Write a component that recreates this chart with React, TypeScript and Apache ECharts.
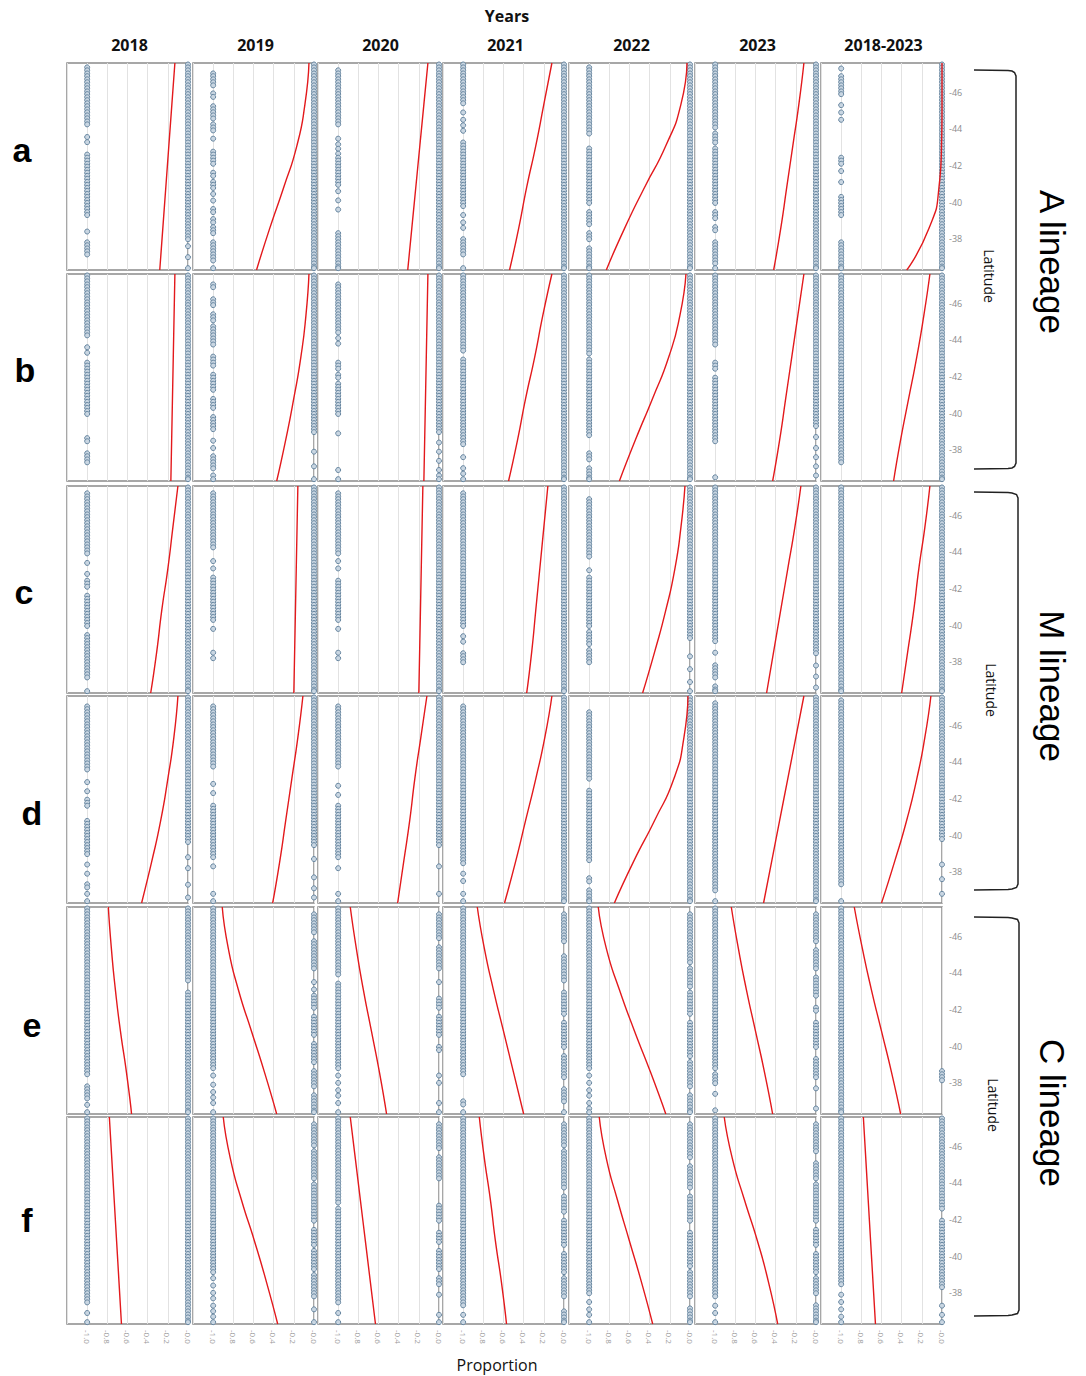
import React, { useEffect, useRef } from "react";
import * as echarts from "echarts";

const years = ["2018", "2019", "2020", "2021", "2022", "2023", "2018-2023"];
const rowLabels = ["a", "b", "c", "d", "e", "f"];
const lineages = ["A lineage", "M lineage", "C lineage"];
const latTicks = [-46, -44, -42, -40, -38];
const propMin = -1.2;
const propMax = 0;
const latMin = -47.6;
const latMax = -36.3;

// sampling-site latitudes
const siteLat = [-47.52, -47.36, -47.2, -47.03, -46.88, -46.71, -46.55, -46.38, -46.22, -46.05, -45.9, -45.73, -45.57, -45.4, -45.24, -45.07, -44.91, -44.74, -44.58, -44.41, -44.25, -44.08, -43.92, -43.75, -43.59, -43.42, -43.26, -43.09, -42.93, -42.76, -42.6, -42.43, -42.27, -42.1, -41.94, -41.77, -41.61, -41.44, -41.28, -41.11, -40.95, -40.78, -40.62, -40.45, -40.29, -40.12, -39.96, -39.79, -39.63, -39.46, -39.3, -39.13, -38.97, -38.8, -38.64, -38.47, -38.31, -38.14, -37.98, -37.81, -37.65, -37.48, -37.32, -37.15, -36.99, -36.82, -36.66, -36.49, -36.4];

// latitudes of observations at proportion -1.0 (number = one site, pair = all sites in range)
const lowRowA = [
  [[-47.4, -44.2], -43.56, -43.28, [-42.6, -39.3], -38.4, [-37.8, -37.15]],
  [[-47.12, -46.76], [-46.57, -46.27], -45.94, -45.75, [-45.2, -44.75], -44.57, [-44.29, -43.93], -43.47, [-42.73, -42.46], [-42.28, -42.0], [-41.64, -41.36], [-41.18, -40.73], -40.45, -40.09, [-39.72, -39.36], -39.08, -38.9, [-38.62, -38.26], [-37.89, -36.79], -36.4],
  [[-47.2, -44.3], -43.47, -43.16, -42.92, -42.65, [-42.4, -40.9], -40.6, -40.1, -39.6, [-38.4, -36.4]],
  [[-47.5, -45.3], -44.9, -44.5, -44.2, -43.9, [-43.3, -39.7], -39.3, -38.9, -38.6, [-38.0, -37.1], -36.4],
  [[-47.4, -43.7], [-43.0, -39.9], [-39.5, -38.8], [-38.4, -37.9], [-37.5, -36.4]],
  [[-47.5, -44.0], [-43.7, -43.3], [-42.9, -39.9], [-39.5, -39.1], [-38.6, -38.4], [-37.9, -36.6], -36.4],
  [-47.3, [-46.9, -45.8], -45.3, -44.9, -44.5, [-42.5, -42.1], -41.7, -41.1, [-40.4, -39.3], [-37.9, -36.4]],
];
const lowRowB = [
  [[-47.5, -44.2], -43.6, -43.3, [-42.8, -40.0], [-38.6, -38.4], [-37.9, -37.3]],
  [[-47.0, -46.8], [-46.3, -45.9], [-45.5, -45.0], [-44.7, -43.8], [-43.1, -42.6], [-42.1, -41.3], [-40.9, -40.2], [-39.9, -39.1], -38.5, -38.1, [-37.7, -37.0], -36.6, -36.4],
  [[-47.1, -44.4], -44.1, -43.8, [-42.8, -42.4], [-42.1, -41.9], [-41.6, -39.9], -38.9, -36.9, -36.4],
  [[-47.5, -43.4], [-43.0, -38.3], -37.6, -37.0, -36.7, -36.4],
  [[-47.5, -43.3], [-42.9, -38.8], [-37.8, -37.5], [-37.0, -36.4]],
  [[-47.5, -43.7], [-42.8, -42.4], [-41.9, -38.4], -36.5],
  [[-47.5, -37.3]],
];
const lowRowC = [
  [[-47.2, -43.9], -43.4, -42.8, [-42.4, -42.0], [-41.6, -39.9], [-39.5, -37.1], -36.4],
  [[-47.2, -44.2], -43.5, -43.1, [-42.6, -40.2], -39.8, -38.5, -38.2],
  [[-47.2, -43.9], -43.5, -43.1, [-42.5, -40.2], -39.8, -38.5, -38.2],
  [[-47.2, -39.9], -39.4, -39.1, [-38.5, -37.9]],
  [[-46.9, -43.7], -43.0, [-42.7, -39.9], [-39.6, -38.9], [-38.6, -38.0]],
  [[-47.5, -39.1], -38.5, [-37.9, -37.1], [-36.7, -36.4]],
  [[-47.55, -36.4]],
];
const lowRowD = [
  [[-47.1, -43.5], -42.9, -42.4, [-42.0, -41.5], [-40.8, -39.0], -38.4, -37.9, [-37.4, -37.1], -36.8, -36.4],
  [[-47.1, -43.8], -42.8, -42.3, [-41.6, -38.8], -38.3, -36.8, -36.4],
  [[-47.1, -43.7], -42.7, -42.2, [-41.6, -38.8], -38.2, -36.8, -36.4],
  [[-47.0, -38.4], -37.9, -37.5, -36.8, -36.4],
  [[-46.7, -43.0], [-42.4, -38.6], [-37.7, -37.5], [-36.95, -36.4]],
  [[-47.3, -37.0], -36.4],
  [[-47.4, -37.3], -36.4],
];
const lowRowE = [
  [[-47.55, -38.4], [-37.9, -37.1], -36.8, -36.4],
  [[-47.55, -38.8], -38.4, -37.9, -37.5, -37.2, -36.9, -36.4],
  [[-47.55, -43.9], [-43.5, -38.8], -38.4, -38.0, -37.6, -37.3, -36.9, -36.4],
  [[-47.55, -38.4], [-37.0, -36.8], -36.4],
  [[-47.55, -38.8], -38.4, -38.0, -37.6, -37.3, -36.9, -36.6, -36.4],
  [[-47.55, -38.8], [-38.5, -38.0], -37.4, -36.5],
  [[-47.55, -36.4]],
];
const lowRowF = [
  [[-47.55, -38.0], [-37.9, -37.4], -36.9, -36.4],
  [[-47.55, -39.1], -38.8, -38.4, -38.0, -37.7, -37.3, -37.0, -36.7, -36.4],
  [[-47.55, -42.9], [-42.6, -37.5], -36.9, -36.4],
  [[-47.55, -37.3], -36.8, -36.4],
  [[-47.55, -37.9], -37.5, -37.1, -36.8, -36.4],
  [[-47.55, -37.7], -37.3, -36.9, -36.4],
  [[-47.55, -38.4], -37.9, -37.5, -37.1, -36.7, -36.4],
];

// latitudes of observations at proportion 0.0
const highRowA = [
  [[-47.55, -37.9], -37.6, -37.0, -36.4],
  [[-47.55, -36.4]],
  [[-47.55, -36.4]],
  [[-47.55, -36.4]],
  [[-47.55, -36.4]],
  [[-47.55, -36.4]],
  [[-47.55, -36.4]],
];
const highRowB = [
  [[-47.55, -36.4]],
  [[-47.55, -38.9], -37.9, -37.1, -36.4],
  [[-47.55, -38.9], -38.4, -37.9, -37.4, -36.9, -36.6, -36.4],
  [[-47.55, -36.4]],
  [[-47.55, -36.4]],
  [[-47.55, -39.3], -38.7, -38.1, -37.6, -37.1, -36.6],
  [[-47.55, -36.4]],
];
const highRowC = [
  [[-47.55, -36.4]],
  [[-47.55, -36.4]],
  [[-47.55, -36.4]],
  [[-47.55, -36.4]],
  [[-47.55, -39.3], -38.3, -37.6, -36.9, -36.4],
  [[-47.55, -38.5], -37.8, -37.2, -36.6],
  [[-47.55, -36.4]],
];
const highRowD = [
  [[-47.55, -39.6], -38.8, -38.2, -37.3, -36.6],
  [[-47.55, -39.5], -38.7, -37.7, -37.1, -36.6],
  [[-47.55, -39.5], -38.3, -36.8],
  [[-47.55, -36.4]],
  [[-47.55, -36.4]],
  [[-47.55, -36.4]],
  [[-47.55, -39.7], -38.4, -37.6, -36.8],
];
const highRowE = [
  [[-47.55, -43.5], [-43.0, -36.4]],
  [[-47.2, -46.2], [-45.7, -44.2], -43.5, -43.1, [-42.8, -42.0], [-41.7, -40.6], [-40.2, -39.1], [-38.6, -37.7], [-37.3, -36.4]],
  [[-47.2, -45.9], [-45.5, -44.2], -43.5, [-42.6, -42.0], [-41.7, -40.6], [-40.0, -39.7], -38.4, -38.0, -36.9, -36.4],
  [[-47.3, -45.7], [-45.0, -43.5], [-42.9, -41.7], [-41.3, -39.9], [-39.5, -38.2], [-37.7, -36.95], -36.4],
  [[-47.3, -44.6], [-44.2, -43.3], [-42.9, -41.7], [-41.3, -39.5], [-39.1, -37.7], [-37.3, -36.4]],
  [[-47.3, -45.7], [-45.3, -44.2], [-43.7, -42.8], [-42.2, -41.9], [-41.3, -39.9], [-39.3, -38.2], -37.7, -36.6],
  [[-38.7, -38.1]],
];
const highRowF = [
  [[-47.55, -36.4]],
  [[-47.3, -46.0], [-45.7, -44.2], [-43.9, -42.8], [-42.6, -41.9], [-41.5, -40.6], [-40.4, -39.3], [-38.95, -37.7], -37.1, -36.4],
  [[-47.3, -45.9], [-45.5, -44.2], [-42.8, -41.9], [-41.3, -40.8], [-40.4, -39.3], [-38.8, -38.4], -37.9, -36.8, -36.4],
  [[-47.3, -46.0], [-45.7, -43.7], [-43.3, -42.4], [-42.0, -40.6], [-40.2, -39.1], [-38.8, -37.7], [-37.0, -36.4]],
  [[-47.3, -45.3], [-44.9, -43.7], [-43.3, -41.9], [-41.3, -39.5], [-39.1, -37.7], [-37.1, -36.4]],
  [[-47.3, -45.7], [-45.1, -44.2], [-43.9, -41.9], [-41.5, -40.6], [-40.2, -39.1], [-38.8, -37.9], [-37.3, -36.4]],
  [[-47.5, -42.5], [-41.9, -38.3], -37.3, -36.8, -36.4],
];

// fitted curves: proportion at each latitude of curveLat
const curveLat = [-47.6, -45.34, -43.08, -40.82, -38.56, -36.3];
const curveRowA = [
  [-0.13, -0.16, -0.19, -0.22, -0.25, -0.28],
  [-0.05, -0.09, -0.17, -0.3, -0.44, -0.57],
  [-0.11, -0.15, -0.19, -0.23, -0.27, -0.31],
  [-0.12, -0.2, -0.28, -0.37, -0.45, -0.54],
  [-0.03, -0.09, -0.24, -0.45, -0.65, -0.83],
  [-0.12, -0.17, -0.23, -0.29, -0.35, -0.42],
  [0, 0, -0.005, -0.03, -0.13, -0.35],
];
const curveRowB = [
  [-0.13, -0.138, -0.146, -0.154, -0.162, -0.17],
  [-0.05, -0.08, -0.13, -0.2, -0.28, -0.37],
  [-0.11, -0.118, -0.126, -0.134, -0.142, -0.15],
  [-0.12, -0.21, -0.29, -0.38, -0.46, -0.55],
  [-0.04, -0.1, -0.21, -0.37, -0.54, -0.7],
  [-0.12, -0.18, -0.24, -0.3, -0.36, -0.43],
  [-0.12, -0.18, -0.25, -0.33, -0.41, -0.48],
];
const curveRowC = [
  [-0.1, -0.15, -0.2, -0.26, -0.31, -0.37],
  [-0.16, -0.168, -0.176, -0.184, -0.192, -0.2],
  [-0.16, -0.168, -0.176, -0.184, -0.192, -0.2],
  [-0.16, -0.2, -0.24, -0.28, -0.32, -0.37],
  [-0.05, -0.09, -0.15, -0.24, -0.35, -0.47],
  [-0.15, -0.21, -0.28, -0.35, -0.42, -0.49],
  [-0.12, -0.17, -0.23, -0.28, -0.34, -0.4],
];
const curveRowD = [
  [-0.1, -0.14, -0.2, -0.27, -0.36, -0.46],
  [-0.11, -0.16, -0.22, -0.28, -0.34, -0.41],
  [-0.12, -0.18, -0.24, -0.29, -0.35, -0.41],
  [-0.12, -0.19, -0.28, -0.38, -0.48, -0.59],
  [-0.02, -0.06, -0.16, -0.35, -0.56, -0.75],
  [-0.12, -0.2, -0.28, -0.36, -0.44, -0.52],
  [-0.11, -0.17, -0.25, -0.35, -0.47, -0.6],
];
const curveRowE = [
  [-0.79, -0.76, -0.72, -0.67, -0.61, -0.56],
  [-0.91, -0.85, -0.75, -0.62, -0.49, -0.37],
  [-0.88, -0.82, -0.75, -0.67, -0.59, -0.52],
  [-0.86, -0.79, -0.7, -0.6, -0.5, -0.4],
  [-0.91, -0.83, -0.7, -0.55, -0.39, -0.24],
  [-0.84, -0.77, -0.69, -0.6, -0.51, -0.43],
  [-0.87, -0.79, -0.7, -0.6, -0.5, -0.41],
];
const curveRowF = [
  [-0.78, -0.756, -0.732, -0.708, -0.684, -0.66],
  [-0.9, -0.83, -0.72, -0.59, -0.47, -0.36],
  [-0.88, -0.83, -0.78, -0.73, -0.68, -0.63],
  [-0.84, -0.79, -0.73, -0.68, -0.62, -0.57],
  [-0.9, -0.83, -0.72, -0.6, -0.48, -0.37],
  [-0.91, -0.83, -0.71, -0.58, -0.47, -0.38],
  [-0.78, -0.756, -0.732, -0.708, -0.684, -0.66],
];

const lowPoints = [lowRowA, lowRowB, lowRowC, lowRowD, lowRowE, lowRowF];
const highPoints = [highRowA, highRowB, highRowC, highRowD, highRowE, highRowF];
const curves = [curveRowA, curveRowB, curveRowC, curveRowD, curveRowE, curveRowF];

// layout
const colLeft = [67, 193, 318, 443, 569, 695, 821];
const colW = 121;
const rowTop = [63, 274, 486, 696, 907, 1117];
const rowH = 207;

function expand(spec: any[]): number[] {
  const out: number[] = [];
  spec.forEach((s) => {
    if (typeof s === "number") out.push(s);
    else {
      const lo = Math.min(s[0], s[1]) - 0.05;
      const hi = Math.max(s[0], s[1]) + 0.05;
      siteLat.forEach((v) => {
        if (v >= lo && v <= hi) out.push(v);
      });
    }
  });
  return out;
}

function buildOption() {
  const grid: any[] = [];
  const xAxis: any[] = [];
  const yAxis: any[] = [];
  const series: any[] = [];
  const graphic: any[] = [];
  let k = 0;
  for (let r = 0; r < 6; r++) {
    for (let c = 0; c < 7; c++) {
      grid.push({
        left: colLeft[c],
        top: rowTop[r],
        width: colW,
        height: rowH,
        show: true,
        backgroundColor: "#ffffff",
        borderColor: "#8a8a8a",
        borderWidth: 1.5,
        containLabel: false,
      });
      xAxis.push({
        type: "value",
        gridIndex: k,
        min: propMin,
        max: propMax,
        interval: 0.2,
        axisLine: { show: false },
        axisTick: { show: false },
        splitLine: { show: true, lineStyle: { color: "#e2e2e2", width: 1 } },
        axisLabel: {
          show: r === 5,
          rotate: -90,
          fontSize: 8,
          color: "#9a9a9a",
          margin: 6,
          fontFamily: "Open Sans",
          formatter: (v: number) => {
            if (v < -1.1) return "";
            if (Math.abs(v) < 1e-9) return "-0.0";
            return v.toFixed(1);
          },
        },
      });
      yAxis.push({
        type: "value",
        gridIndex: k,
        inverse: true,
        min: latMin,
        max: latMax,
        position: "right",
        axisLine: { show: false },
        axisTick: { show: false },
        splitLine: { show: false },
        axisLabel: {
          show: c === 6,
          customValues: latTicks,
          fontSize: 9,
          color: "#8c8c8c",
          margin: 7,
          fontFamily: "Open Sans",
        },
      });
      const low = expand(lowPoints[r][c]);
      const high = expand(highPoints[r][c]);
      const pts = low.map((l) => [-1, l]).concat(high.map((l) => [0, l]));
      series.push({
        type: "scatter",
        xAxisIndex: k,
        yAxisIndex: k,
        data: pts,
        symbol: "circle",
        symbolSize: 5,
        silent: true,
        z: 3,
        itemStyle: { color: "#c9d6e2", borderColor: "#6786a0", borderWidth: 1, opacity: 1 },
      });
      series.push({
        type: "line",
        xAxisIndex: k,
        yAxisIndex: k,
        data: curveLat.map((lat, j) => [curves[r][c][j], lat]),
        smooth: 0.6,
        showSymbol: false,
        silent: true,
        z: 4,
        lineStyle: { color: "#e3191c", width: 1.4 },
      });
      k++;
    }
  }

  // titles
  graphic.push({
    type: "text",
    x: 507,
    y: 16,
    style: { text: "Years", fontSize: 16, fontWeight: "bold", fontFamily: "Open Sans", fill: "#111", textAlign: "center", textVerticalAlign: "middle", align: "center", verticalAlign: "middle" },
  });
  years.forEach((y, c) => {
    graphic.push({
      type: "text",
      x: colLeft[c] + colW / 2 + 2,
      y: 45,
      style: { text: y, fontSize: 16, fontWeight: "bold", fontFamily: "Open Sans", fill: "#111", textAlign: "center", textVerticalAlign: "middle", align: "center", verticalAlign: "middle" },
    });
  });
  const letterX = [22, 25, 24, 32, 32, 27];
  const letterY = [150, 370, 592, 813, 1025, 1220];
  rowLabels.forEach((t, r) => {
    graphic.push({
      type: "text",
      x: letterX[r],
      y: letterY[r],
      style: { text: t, fontSize: 34, fontWeight: "bold", fontFamily: "Liberation Sans", fill: "#000", textAlign: "center", textVerticalAlign: "middle", align: "center", verticalAlign: "middle" },
    });
  });
  graphic.push({
    type: "text",
    x: 497,
    y: 1365,
    style: { text: "Proportion", fontSize: 16, fontFamily: "Open Sans", fill: "#111", textAlign: "center", textVerticalAlign: "middle", align: "center", verticalAlign: "middle" },
  });
  const latY = [276, 690, 1105];
  const latX = [989, 991, 993];
  const brX = [1016, 1018, 1019];
  const brTop = [70, 492, 917];
  const brBot = [469, 890, 1316];
  const linY = [262, 686, 1113];
  for (let i = 0; i < 3; i++) {
    graphic.push({
      type: "text",
      x: latX[i],
      y: latY[i],
      rotation: -Math.PI / 2,
      style: { text: "Latitude", fontSize: 14, fontFamily: "Open Sans", fill: "#111", textAlign: "center", textVerticalAlign: "middle", align: "center", verticalAlign: "middle" },
    });
    const x = brX[i];
    const t = brTop[i];
    const b = brBot[i];
    graphic.push({
      type: "polyline",
      shape: {
        points: [
          [974, t],
          [1008, t + 0.5],
          [1012, t + 1],
          [x - 1.5, t + 2.5],
          [x, t + 6],
          [x, b - 6],
          [x - 1.5, b - 2.5],
          [1012, b - 1],
          [1008, b - 0.5],
          [974, b],
        ],
      },
      style: { stroke: "#222", lineWidth: 1.5, fill: null },
    });
    graphic.push({
      type: "text",
      x: 1052,
      y: linY[i],
      rotation: -Math.PI / 2,
      style: { text: lineages[i], fontSize: 35, fontFamily: "Liberation Sans", fill: "#000", textAlign: "center", textVerticalAlign: "middle", align: "center", verticalAlign: "middle" },
    });
  }

  return {
    animation: false,
    backgroundColor: "#ffffff",
    grid,
    xAxis,
    yAxis,
    series,
    graphic,
  };
}

export default function App() {
  const ref = useRef<HTMLDivElement>(null);
  useEffect(() => {
    if (!ref.current) return;
    const chart = echarts.init(ref.current, undefined, { renderer: "svg" });
    chart.setOption(buildOption() as any);
    return () => chart.dispose();
  }, []);
  return (
    <div
      ref={ref}
      style={{ position: "absolute", left: 0, top: 0, width: 1086, height: 1376 }}
    />
  );
}
